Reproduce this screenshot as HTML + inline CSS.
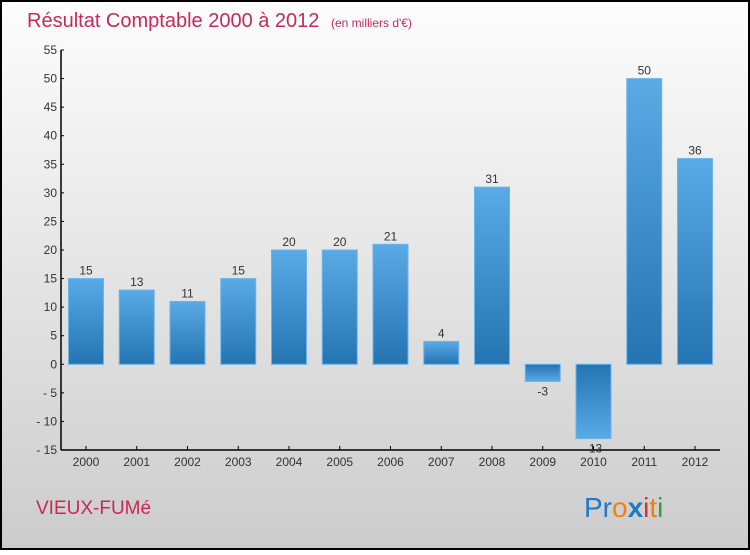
<!DOCTYPE html>
<html><head><meta charset="utf-8"><style>
body{margin:0;width:750px;height:550px;overflow:hidden;font-family:"Liberation Sans",sans-serif}
</style></head><body>
<svg width="750" height="550" xmlns="http://www.w3.org/2000/svg">
<defs>
<linearGradient id="bg" x1="0" y1="0" x2="0" y2="1"><stop offset="0" stop-color="#fdfdfd"/><stop offset="1" stop-color="#cccccc"/></linearGradient>
<linearGradient id="bar" x1="0" y1="0" x2="0" y2="1"><stop offset="0" stop-color="#5aaae6"/><stop offset="1" stop-color="#2474b2"/></linearGradient>
<linearGradient id="barn" x1="0" y1="0" x2="0" y2="1"><stop offset="0" stop-color="#2474b2"/><stop offset="1" stop-color="#5aaae6"/></linearGradient>
</defs>
<rect x="1" y="1" width="748" height="548" fill="url(#bg)" stroke="#000" stroke-width="2"/>
<text x="27" y="27" font-size="20" fill="#c8285a">Résultat Comptable 2000 à 2012 <tspan font-size="12" dx="6">(en milliers d'€)</tspan></text>
<g id="axes"></g>
<g id="bars"></g>
<text x="36" y="514" font-size="19" fill="#c8285a">VIEUX-FUMé</text>
<g font-size="28" font-family="'Liberation Sans',sans-serif">
<text x="584" y="517"><tspan fill="#1f78c8">Pr</tspan><tspan fill="#f08010">o</tspan><tspan fill="#1f78c8" font-weight="bold">x</tspan><tspan fill="#e03020">i</tspan><tspan fill="#f08010">t</tspan><tspan fill="#30a040">i</tspan></text>
</g>
</svg>
<script>
const categories=["2000","2001","2002","2003","2004","2005","2006","2007","2008","2009","2010","2011","2012"];
const values=[15,13,11,15,20,20,21,4,31,-3,-13,50,36];
const yTicks=[55,50,45,40,35,30,25,20,15,10,5,0,-5,-10,-15];
const NS="http://www.w3.org/2000/svg";
const yMin=-15,yMax=55,plotTop=50,plotBot=450,axX=61,axR=720;
const y=v=>plotBot-(v-yMin)/(yMax-yMin)*(plotBot-plotTop);
const xc=i=>86+i*50.75;
function mk(t,a,p){const e=document.createElementNS(NS,t);for(const k in a)e.setAttribute(k,a[k]);p.appendChild(e);return e;}
const ax=document.getElementById('axes'),bg=document.getElementById('bars');
const yl=mk('line',{x1:axX,y1:plotTop,x2:axX,y2:plotBot,stroke:'#000','stroke-width':1.5},ax);


const xl=mk('line',{x1:axX,y1:plotBot,x2:axR,y2:plotBot,stroke:'#000','stroke-width':1.5},ax);


yTicks.forEach(v=>{
 mk('line',{x1:axX,y1:y(v),x2:axX+3,y2:y(v),stroke:'#000'},ax);
 const t=mk('text',{x:axX-4,y:y(v)+4,'text-anchor':'end','font-size':12,fill:'#333'},ax);
 t.textContent=v<0?'- '+(-v):v;
 
 
});
categories.forEach((c,i)=>{
 mk('line',{x1:xc(i),y1:plotBot-4,x2:xc(i),y2:plotBot,stroke:'#000'},ax);
 const t=mk('text',{x:xc(i),y:plotBot+16,'text-anchor':'middle','font-size':12,fill:'#333'},ax);
 t.textContent=c;
 
 
 const v=values[i],y0=y(0),yv=y(v);
 const r=mk('rect',{x:xc(i)-17.5,y:Math.min(y0,yv),width:35,height:Math.abs(y0-yv),fill:v>=0?'url(#bar)':'url(#barn)',stroke:'#6ab4ee','stroke-width':1},bg);
 
 
 const l=mk('text',{x:xc(i),y:v>=0?yv-4:yv+14,'text-anchor':'middle','font-size':12,fill:'#333'},bg);
 l.textContent=v;
 
 
});
</script>
</body></html>
